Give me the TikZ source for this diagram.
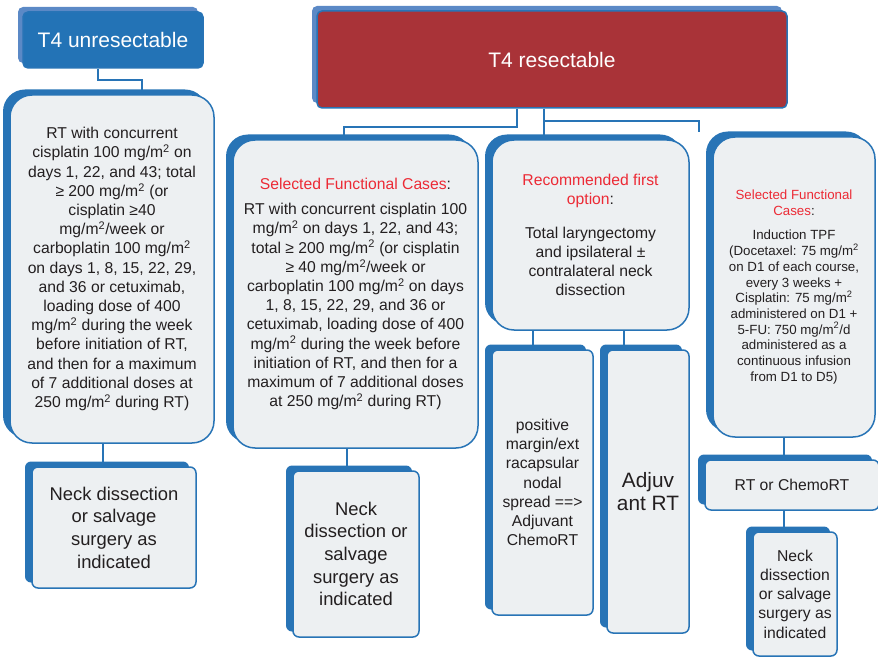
\documentclass[tikz,border=0pt]{standalone}
\usepackage{fontspec}
\setmainfont{Liberation Sans}
\usepackage{xcolor}
\usepackage{tikz}
\definecolor{boxblue}{HTML}{2874B6}
\definecolor{headblue}{HTML}{2373B6}
\definecolor{headshade}{HTML}{5B89C6}
\definecolor{headred}{HTML}{A93338}
\definecolor{boxfill}{HTML}{EDF0F2}
\definecolor{textdark}{HTML}{231F20}
\definecolor{casered}{HTML}{EC2A35}
\usetikzlibrary{shadows, calc}

\begin{document}
\begin{tikzpicture}[x=1pt, y=-1pt,
    head/.style={draw=boxblue, line width=1.5pt, rounded corners=5pt, text=white,
        font=\fontsize{21}{24}\selectfont,
        general shadow={fill=headshade, shadow xshift=-5pt, shadow yshift=5pt}},
    bigbox/.style={draw=boxblue, line width=1.5pt, fill=boxfill, rounded corners=22pt,
        align=center, text=textdark, inner sep=2pt, font=\fontsize{15.7}{19.2}\selectfont,
        general shadow={fill=boxblue, shadow xshift=-7pt, shadow yshift=5.5pt}},
    leaf/.style={bigbox, rounded corners=6pt},
    link/.style={draw=boxblue, line width=2pt}
]
    \useasboundingbox (0,0) rectangle (878,660);

    % Headers
    \node[head, fill=headblue, minimum width=180pt, minimum height=56pt] (unres) at (113,40) {T4 unresectable};
    \node[head, fill=headred, minimum width=470pt, minimum height=97pt] (res) at (552,59.5) {T4 resectable};

    % Unresectable branch
    \node[bigbox, minimum width=204pt, minimum height=348pt] (crt) at (112,269) {
        RT with concurrent\\
        cisplatin 100 mg/m\textsuperscript{2} on\\
        days 1, 22, and 43; total\\
        ≥ 200 mg/m\textsuperscript{2} (or\\
        cisplatin ≥40\\
        mg/m\textsuperscript{2}/week or\\
        carboplatin 100 mg/m\textsuperscript{2}\\
        on days 1, 8, 15, 22, 29,\\
        and 36 or cetuximab,\\
        loading dose of 400\\
        mg/m\textsuperscript{2} during the week\\
        before initiation of RT,\\
        and then for a maximum\\
        of 7 additional doses at\\
        250 mg/m\textsuperscript{2} during RT)
    };
    \node[leaf, minimum width=164pt, minimum height=121pt, font=\fontsize{18.4}{22.7}\selectfont] (neckA) at (114,527.5) {
        Neck dissection\\ or salvage\\ surgery as\\ indicated
    };

    % Resectable: functional cases
    \node[bigbox, minimum width=245pt, minimum height=308pt] (func) at (355.5,294) {
        {\color{casered}Selected Functional Cases}:\\[6pt]
        RT with concurrent cisplatin 100\\
        mg/m\textsuperscript{2} on days 1, 22, and 43;\\
        total ≥ 200 mg/m\textsuperscript{2} (or cisplatin\\
        ≥ 40 mg/m\textsuperscript{2}/week or\\
        carboplatin 100 mg/m\textsuperscript{2} on days\\
        1, 8, 15, 22, 29, and 36 or\\
        cetuximab, loading dose of 400\\
        mg/m\textsuperscript{2} during the week before\\
        initiation of RT, and then for a\\
        maximum of 7 additional doses\\
        at 250 mg/m\textsuperscript{2} during RT)
    };
    \node[leaf, minimum width=126pt, minimum height=166pt, font=\fontsize{18.4}{22.7}\selectfont] (neckB) at (356,554) {
        Neck\\ dissection or\\ salvage\\ surgery as\\ indicated
    };

    % Resectable: first option
    \node[bigbox, minimum width=197pt, minimum height=190pt] (lary) at (590.5,235) {
        {\color{casered}Recommended first}\\
        {\color{casered}option}:\\[14pt]
        Total laryngectomy\\
        and ipsilateral ±\\
        contralateral neck\\
        dissection
    };
    \node[leaf, minimum width=101pt, minimum height=265pt] (margin) at (542.5,482.5) {
        positive\\ margin/ext\\ racapsular\\ nodal\\ spread ==>\\ Adjuvant\\ ChemoRT
    };
    \node[leaf, minimum width=82pt, minimum height=283pt, font=\fontsize{20.8}{23.3}\selectfont] (adjrt) at (648,491.5) {
        Adjuv\\ ant RT
    };

    % Resectable: induction
    \node[bigbox, minimum width=162pt, minimum height=300pt, font=\fontsize{13.3}{15.7}\selectfont] (tpf) at (794,287) {
        {\color{casered}Selected Functional}\\
        {\color{casered}Cases}:\\[9pt]
        Induction TPF\\
        (Docetaxel: 75 mg/m\textsuperscript{2}\\
        on D1 of each course,\\
        every 3 weeks +\\
        Cisplatin: 75 mg/m\textsuperscript{2}\\
        administered on D1 +\\
        5-FU: 750 mg/m\textsuperscript{2}/d\\
        administered as a\\
        continuous infusion\\
        from D1 to D5)
    };
    \node[leaf, minimum width=174pt, minimum height=50pt] (chemo) at (792,485) {RT or ChemoRT};
    \node[leaf, minimum width=84pt, minimum height=124pt] (neckD) at (795,594) {
        Neck\\ dissection\\ or salvage\\ surgery as\\ indicated
    };

    % Connectors
    \draw[link] ([xshift=-15pt]unres.south) -- ++(0,11) -| ([xshift=30pt]crt.north);
    \draw[link] ([xshift=-9pt]crt.south) -- ([xshift=-9pt]crt.south |- neckA.north);
    \draw[link] ([xshift=-35pt]res.south) -- ++(0,18) -| ([xshift=-11.5pt]func.north);
    \draw[link] ([xshift=-8pt]res.south) -- ([xshift=-8pt]res.south |- lary.north);
    \coordinate (tpfend) at ([xshift=-13pt,yshift=4pt]tpf.north west);
    \draw[link] ([xshift=-8pt]res.south) ++(0,12) -| (tpfend);
    \draw[link] ([xshift=-8.5pt]func.south) -- ([xshift=-8.5pt]func.south |- neckB.north);
    \draw[link] ([xshift=-9.5pt]margin.north) -- ([xshift=-9.5pt]margin.north |- lary.south);
    \draw[link] ([xshift=-24pt]adjrt.north) -- ([xshift=-24pt]adjrt.north |- lary.south);
    \draw[link] ([xshift=-10pt]tpf.south) -- ([xshift=-10pt]tpf.south |- chemo.north);
    \draw[link] ([xshift=-11pt]neckD.north) -- ([xshift=-11pt]neckD.north |- chemo.south);
\end{tikzpicture}
\end{document}
